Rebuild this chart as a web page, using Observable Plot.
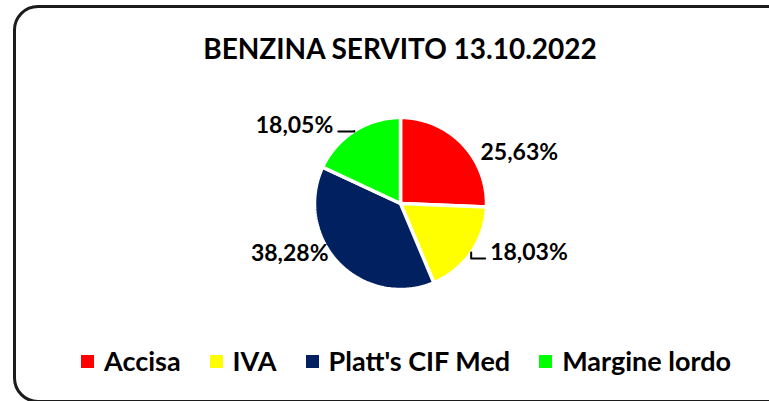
<!DOCTYPE html>
<html>
<head>
<meta charset="utf-8">
<script src="https://cdn.jsdelivr.net/npm/d3@7"></script>
<script src="https://cdn.jsdelivr.net/npm/@observablehq/plot@0.6"></script>
<style>
  html, body { margin: 0; padding: 0; background: #fff; }
  #wrap { position: relative; width: 769px; height: 401px; overflow: hidden; font-family: Lato, "Open Sans", sans-serif; color: #000; }
  #frame { position: absolute; left: 13px; top: 5px; width: 790px; height: 398px; border: 3px solid #1c1c1c; border-radius: 25px; box-sizing: border-box; }
  #title { position: absolute; left: 0; width: 800px; top: 30.5px; text-align: center; font-weight: 700; font-size: 28px; line-height: 34px; white-space: nowrap; }
  #chart { position: absolute; left: 0; top: 0; }
  #legend { position: absolute; left: 81px; top: 344px; display: flex; align-items: center; gap: 29px; font-weight: 700; font-size: 27px; line-height: 34px; white-space: nowrap; }
  .item { display: flex; align-items: center; }
  .sw { width: 13px; height: 13px; margin-right: 10px; }
</style>
</head>
<body>
<div id="wrap">
  <div id="frame"></div>
  <div id="chart"></div>
  <div id="title"></div>
  <div id="legend"></div>
</div>
<script>
// ---- data ----
const title = "BENZINA SERVITO 13.10.2022";
const categories = ["Accisa", "IVA", "Platt's CIF Med", "Margine lordo"];
const shares = [25.63, 18.03, 38.28, 18.05];
const labels = ["25,63%", "18,03%", "38,28%", "18,05%"];
const colors = ["#FF0000", "#FFFF00", "#002060", "#00FF00"];

// ---- layout (pixels) ----
const W = 769, H = 401;
const cx = 400, cy = 203, R = 86;
const labelNudge = [[18, 9], [19, 0], [-10, -10], [-21, -5.5]];
const hasLeader = [false, true, false, true];

// ---- build pie geometry from the data ----
const total = d3.sum(shares);
let acc = 0;
const slices = shares.map((v, i) => {
  const a0 = acc / total * 2 * Math.PI;
  acc += v;
  const a1 = acc / total * 2 * Math.PI;
  return { cat: categories[i], a0, a1, mid: (a0 + a1) / 2, label: labels[i], i };
});

const wedgePts = [];
for (const s of slices) {
  wedgePts.push({ cat: s.cat, x: 0, y: 0 });
  const n = Math.max(8, Math.ceil((s.a1 - s.a0) / (Math.PI / 180)));
  for (let k = 0; k <= n; k++) {
    const a = s.a0 + (s.a1 - s.a0) * k / n;
    wedgePts.push({ cat: s.cat, x: Math.sin(a), y: Math.cos(a) });
  }
}

const labelData = slices.map((s) => {
  const [dx, dy] = labelNudge[s.i];
  const ex = Math.sin(s.mid), ey = Math.cos(s.mid);
  return {
    label: s.label,
    x: ex + dx / R,
    y: ey - dy / R,
    anchor: ex >= 0 ? "start" : "end",
    ex, ey, dy, dx, i: s.i, side: ex >= 0 ? 1 : -1
  };
});

const leaderPts = [];
for (const l of labelData) {
  if (!hasLeader[l.i]) continue;
  const yLine = l.y - 6 / R;
  leaderPts.push({ id: l.i, x: l.ex, y: l.ey });
  leaderPts.push({ id: l.i, x: l.ex, y: yLine });
  leaderPts.push({ id: l.i, x: l.x - l.side * 5 / R, y: yLine });
}

const textStyle = { fontFamily: "Lato, sans-serif", fontWeight: 700, fontSize: 23, fill: "#000", lineAnchor: "middle" };

const plot = Plot.plot({
  width: W, height: H, margin: 0,
  x: { domain: [-1, 1], range: [cx - R, cx + R], axis: null },
  y: { domain: [-1, 1], range: [cy + R, cy - R], axis: null },
  color: { domain: categories, range: colors },
  style: { background: "transparent", overflow: "visible" },
  marks: [
    Plot.line(wedgePts, { x: "x", y: "y", z: "cat", fill: "cat", stroke: "white", strokeWidth: 3.5, strokeLinejoin: "miter", curve: "linear-closed" }),
    Plot.line(leaderPts, { x: "x", y: "y", z: "id", stroke: "#000", strokeWidth: 2 }),
    Plot.text(labelData.filter(d => d.anchor === "start"), { x: "x", y: "y", text: "label", textAnchor: "start", ...textStyle }),
    Plot.text(labelData.filter(d => d.anchor === "end"), { x: "x", y: "y", text: "label", textAnchor: "end", ...textStyle })
  ]
});
document.getElementById("chart").appendChild(plot);

document.getElementById("title").textContent = title;
const legend = d3.select("#legend");
categories.forEach((c, i) => {
  const it = legend.append("div").attr("class", "item");
  it.append("div").attr("class", "sw").style("background", colors[i]);
  it.append("span").text(c);
});
</script>
</body>
</html>
